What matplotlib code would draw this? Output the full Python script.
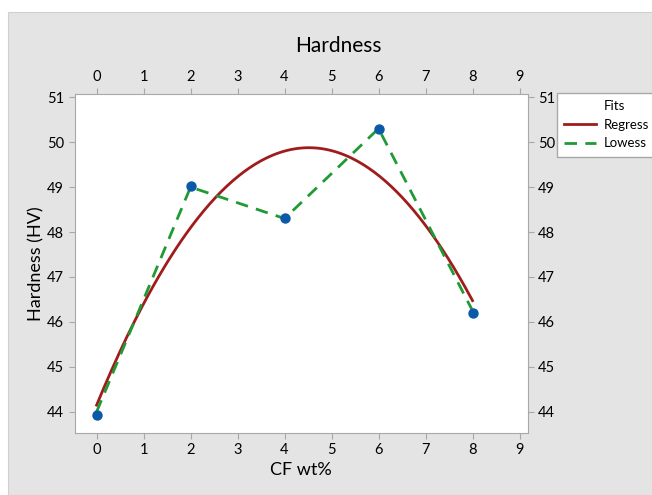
import numpy as np
import matplotlib.pyplot as plt
from matplotlib.patches import Rectangle
from matplotlib.lines import Line2D

plt.rcParams['font.family'] = ['Lato', 'DejaVu Sans']

cf_wt = [0, 2, 4, 6, 8]
hardness = [43.93, 49.03, 48.32, 50.30, 46.20]
lowess = [44.0, 49.0, 48.3, 50.3, 46.25]
xticks = list(range(10))
yticks = list(range(44, 52))

fig = plt.figure(figsize=(6.52, 4.95), dpi=100)
fig.patches.append(Rectangle((8 / 652, 0), 1, 1 - 12 / 495, transform=fig.transFigure,
                             facecolor='#e4e4e4', edgecolor='#d0d0d0', lw=0.8, zorder=-5))

ax = fig.add_axes([74.5 / 652, 62 / 495, 453 / 652, 339 / 495])
ax.set_facecolor('white')

# quadratic regression fit
coef = np.polyfit(cf_wt, hardness, 2)
xs = np.linspace(0, 8, 200)
ax.plot(xs, np.polyval(coef, xs), color='#a01c1c', lw=2, zorder=2)
ax.plot(cf_wt, lowess, color='#1f9a35', lw=2, ls=(0, (4.5, 3)), zorder=3)
ax.scatter(cf_wt, hardness, s=42, color='#0a5aa8', zorder=4)

ax.set_xlim(-0.47, 9.17)
ax.set_ylim(43.53, 51.07)
ax.set_xticks(xticks)
ax.set_yticks(yticks)
for s in ax.spines.values():
    s.set_color('#a8a8a8')
ax.tick_params(colors='#a8a8a8', labelcolor='black', labelsize=10.5, length=4,
               top=True, right=True, labeltop=True, labelright=True)

ax.set_xlabel('CF wt%', fontsize=13, labelpad=3)
ax.set_ylabel('Hardness (HV)', fontsize=13, labelpad=2)
fig.text(338 / 652, 1 - 46 / 495, 'Hardness', fontsize=15, ha='center', va='center')

handles = [Line2D([], [], color='none'),
           Line2D([], [], color='#a01c1c', lw=2),
           Line2D([], [], color='#1f9a35', lw=2, ls=(0, (4.5, 3)))]
leg = fig.legend(handles, ['Fits', 'Regress', 'Lowess'], loc='upper left',
                 bbox_to_anchor=(557 / 652, 1 - 93 / 495), borderaxespad=0, fontsize=9.5,
                 fancybox=False, framealpha=1, edgecolor='#a8a8a8', handlelength=2.4,
                 handletextpad=0.58, borderpad=0.55, labelspacing=0.5)

fig.savefig('out.png', dpi=100)
